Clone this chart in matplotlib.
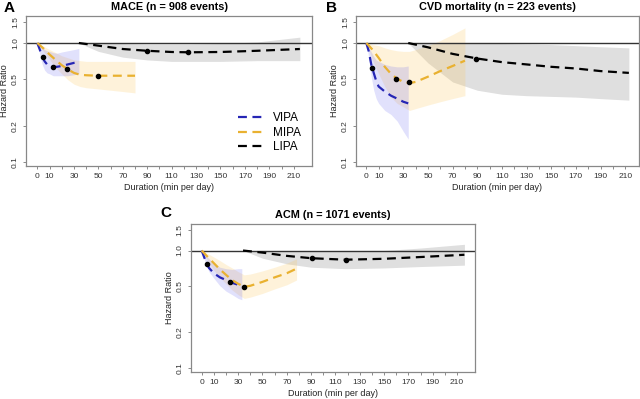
import numpy as np
import matplotlib
matplotlib.use("Agg")
from matplotlib import pyplot as plt

plt.rcParams['font.family'] = ['Liberation Sans', 'DejaVu Sans']

# ---- data (HR on log scale) ----
# Panel A: MACE
a_vipa_x = [0, 2, 4, 6, 8, 10, 13, 16, 20, 25, 30, 34]
a_vipa_y = [1.0, 0.88, 0.77, 0.70, 0.66, 0.64, 0.63, 0.63, 0.64, 0.66, 0.68, 0.69]
a_vipa_lo = [1.0, 0.80, 0.66, 0.59, 0.56, 0.55, 0.53, 0.53, 0.53, 0.53, 0.54, 0.55]
a_vipa_hi = [1.0, 0.96, 0.92, 0.88, 0.86, 0.85, 0.83, 0.82, 0.84, 0.86, 0.88, 0.90]
a_mipa_x = [0, 5, 10, 15, 20, 25, 30, 35, 40, 50, 60, 70, 80]
a_mipa_y = [1.0, 0.90, 0.80, 0.72, 0.65, 0.60, 0.56, 0.54, 0.535, 0.53, 0.53, 0.53, 0.53]
a_mipa_lo = [1.0, 0.85, 0.73, 0.62, 0.55, 0.49, 0.45, 0.43, 0.42, 0.41, 0.40, 0.39, 0.38]
a_mipa_hi = [1.0, 0.94, 0.88, 0.83, 0.78, 0.75, 0.72, 0.71, 0.70, 0.70, 0.70, 0.70, 0.70]
a_lipa_x = [34, 50, 70, 90, 110, 124, 150, 180, 215]
a_lipa_y = [1.0, 0.95, 0.89, 0.86, 0.84, 0.835, 0.84, 0.86, 0.89]
a_lipa_lo = [1.0, 0.85, 0.76, 0.72, 0.70, 0.70, 0.70, 0.71, 0.71]
a_lipa_hi = [1.0, 0.995, 0.99, 0.98, 0.98, 0.98, 0.99, 1.02, 1.12]
a_dots_x = [4.4, 13.2, 24.2, 49.7, 90, 123.6]
a_dots_y = [0.76, 0.63, 0.60, 0.53, 0.86, 0.835]

# Panel B: CVD mortality
b_vipa_x = [0, 2, 4, 6, 8, 10, 15, 20, 25, 30, 34]
b_vipa_y = [1.0, 0.85, 0.66, 0.56, 0.48, 0.43, 0.39, 0.36, 0.34, 0.32, 0.31]
b_vipa_lo = [1.0, 0.75, 0.52, 0.40, 0.34, 0.31, 0.27, 0.25, 0.22, 0.18, 0.155]
b_vipa_hi = [1.0, 0.93, 0.84, 0.77, 0.72, 0.70, 0.66, 0.64, 0.63, 0.63, 0.64]
b_mipa_x = [0, 5, 10, 15, 20, 25, 30, 35, 40, 50, 60, 70, 80]
b_mipa_y = [1.0, 0.88, 0.75, 0.63, 0.55, 0.50, 0.47, 0.46, 0.47, 0.52, 0.58, 0.64, 0.71]
b_mipa_lo = [1.0, 0.72, 0.55, 0.43, 0.35, 0.31, 0.29, 0.27, 0.28, 0.30, 0.32, 0.34, 0.36]
b_mipa_hi = [1.0, 0.97, 0.95, 0.91, 0.88, 0.86, 0.85, 0.85, 0.88, 0.95, 1.05, 1.18, 1.34]
b_lipa_x = [34, 50, 70, 90, 110, 130, 150, 170, 190, 213]
b_lipa_y = [1.0, 0.92, 0.81, 0.74, 0.69, 0.66, 0.63, 0.61, 0.58, 0.56]
b_lipa_lo = [1.0, 0.68, 0.47, 0.40, 0.37, 0.36, 0.355, 0.35, 0.34, 0.33]
b_lipa_hi = [1.0, 1.0, 1.0, 0.99, 0.99, 0.98, 0.97, 0.95, 0.93, 0.91]
b_dots_x = [4.6, 24.2, 34.4, 89.2]
b_dots_y = [0.62, 0.50, 0.47, 0.74]

# Panel C: ACM
c_vipa_x = [0, 2, 4, 6, 10, 15, 20, 25, 30, 33]
c_vipa_y = [1.0, 0.88, 0.78, 0.71, 0.64, 0.59, 0.56, 0.53, 0.51, 0.50]
c_vipa_lo = [1.0, 0.85, 0.74, 0.66, 0.58, 0.50, 0.45, 0.42, 0.39, 0.38]
c_vipa_hi = [1.0, 0.95, 0.90, 0.85, 0.78, 0.72, 0.70, 0.69, 0.70, 0.70]
c_mipa_x = [0, 5, 10, 15, 20, 25, 30, 35, 40, 50, 60, 70, 78]
c_mipa_y = [1.0, 0.88, 0.78, 0.69, 0.62, 0.56, 0.52, 0.49, 0.50, 0.54, 0.59, 0.64, 0.70]
c_mipa_lo = [1.0, 0.82, 0.68, 0.59, 0.52, 0.46, 0.42, 0.39, 0.40, 0.43, 0.47, 0.51, 0.56]
c_mipa_hi = [1.0, 0.94, 0.88, 0.82, 0.76, 0.71, 0.66, 0.62, 0.63, 0.67, 0.72, 0.78, 0.85]
c_lipa_x = [34, 50, 70, 90, 118, 150, 180, 216]
c_lipa_y = [1.0, 0.96, 0.90, 0.86, 0.835, 0.85, 0.88, 0.92]
c_lipa_lo = [1.0, 0.86, 0.77, 0.72, 0.70, 0.71, 0.73, 0.75]
c_lipa_hi = [1.0, 0.995, 0.99, 0.98, 0.98, 1.0, 1.05, 1.13]
c_dots_x = [4.1, 23.3, 34.8, 90.4, 118.6]
c_dots_y = [0.77, 0.54, 0.49, 0.86, 0.83]

titles = ["MACE (n = 908 events)", "CVD mortality (n = 223 events)", "ACM (n = 1071 events)"]
letters = ["A", "B", "C"]
yticks = [0.1, 0.2, 0.5, 1.0, 1.5]
xlabels_at = [0, 10, 30, 50, 70, 90, 110, 130, 150, 170, 190, 210]

VIPA_C = "#2626b5"
MIPA_C = "#e9b130"
LIPA_C = "black"


def draw_panel(ax, vipa, mipa, lipa, dots, xlim, title, legend=False):
    """ one hazard ratio panel """
    for (x, y, lo, hi), fc in [
            (lipa, (0.55, 0.55, 0.55, 0.28)),
            (mipa, (0.99, 0.78, 0.35, 0.22)),
            (vipa, (0.35, 0.35, 0.95, 0.18))]:
        ax.fill_between(x, lo, hi, color=fc, lw=0)
    ax.axhline(1.0, color="#333333", lw=1.0)
    h_v, = ax.plot(vipa[0], vipa[1], color=VIPA_C, lw=1.6, ls=(0, (4, 2.5)))
    h_m, = ax.plot(mipa[0], mipa[1], color=MIPA_C, lw=1.6, ls=(0, (4, 2.5)))
    h_l, = ax.plot(lipa[0], lipa[1], color=LIPA_C, lw=1.6, ls=(0, (4, 2.5)))
    ax.plot(dots[0], dots[1], "o", color="black", ms=3.0, ls="none")

    ax.set_yscale("log")
    ax.set_ylim(0.092, 1.69)
    ax.set_xlim(*xlim)
    ax.set_yticks(yticks)
    ax.set_yticklabels(["%.1f" % v for v in yticks], rotation=90, va="center")
    ax.minorticks_off()
    ax.set_xticks(np.arange(0, 211, 10), minor=True)
    ax.set_xticks(xlabels_at)
    ax.set_xticklabels([str(v) for v in xlabels_at])
    ax.tick_params(which="both", colors="#777777", labelcolor="#333333",
                   labelsize=6, length=2.5, width=0.6, pad=2.5)
    for s in ax.spines.values():
        s.set_color("#888888")
        s.set_linewidth(0.9)
    ax.set_xlabel("Duration (min per day)", fontsize=6.5, color="#222222", labelpad=2)
    ax.set_ylabel("Hazard Ratio", fontsize=6.5, color="#222222", labelpad=2)
    ax.set_title(title, fontsize=7.8, fontweight="bold", pad=4)
    if legend:
        ax.legend([h_v, h_m, h_l], ["VIPA", "MIPA", "LIPA"], loc="lower right",
                  frameon=False, fontsize=8.5, handlelength=2.2,
                  borderaxespad=0.3, labelspacing=0.2,
                  bbox_to_anchor=(0.99, 0.03))


fig = plt.figure(figsize=(6.4, 3.99), dpi=100)
axA = fig.add_axes([0.0406, 0.584, 0.447, 0.376])
axB = fig.add_axes([0.556, 0.584, 0.442, 0.376])
axC = fig.add_axes([0.298, 0.068, 0.444, 0.371])

draw_panel(axA, (a_vipa_x, a_vipa_y, a_vipa_lo, a_vipa_hi),
           (a_mipa_x, a_mipa_y, a_mipa_lo, a_mipa_hi),
           (a_lipa_x, a_lipa_y, a_lipa_lo, a_lipa_hi),
           (a_dots_x, a_dots_y), (-9.3, 225), titles[0], legend=True)
draw_panel(axB, (b_vipa_x, b_vipa_y, b_vipa_lo, b_vipa_hi),
           (b_mipa_x, b_mipa_y, b_mipa_lo, b_mipa_hi),
           (b_lipa_x, b_lipa_y, b_lipa_lo, b_lipa_hi),
           (b_dots_x, b_dots_y), (-8.5, 221), titles[1])
draw_panel(axC, (c_vipa_x, c_vipa_y, c_vipa_lo, c_vipa_hi),
           (c_mipa_x, c_mipa_y, c_mipa_lo, c_mipa_hi),
           (c_lipa_x, c_lipa_y, c_lipa_lo, c_lipa_hi),
           (c_dots_x, c_dots_y), (-9, 224.6), titles[2])

# panel letters
for letter, (px, py) in zip(letters, [(4, 8), (326, 8), (160, 213)]):
    fig.text(px / 640, 1 - py / 399, letter, fontsize=11, fontweight="bold",
             ha="left", va="center")

fig.savefig("out.png", dpi=100)
